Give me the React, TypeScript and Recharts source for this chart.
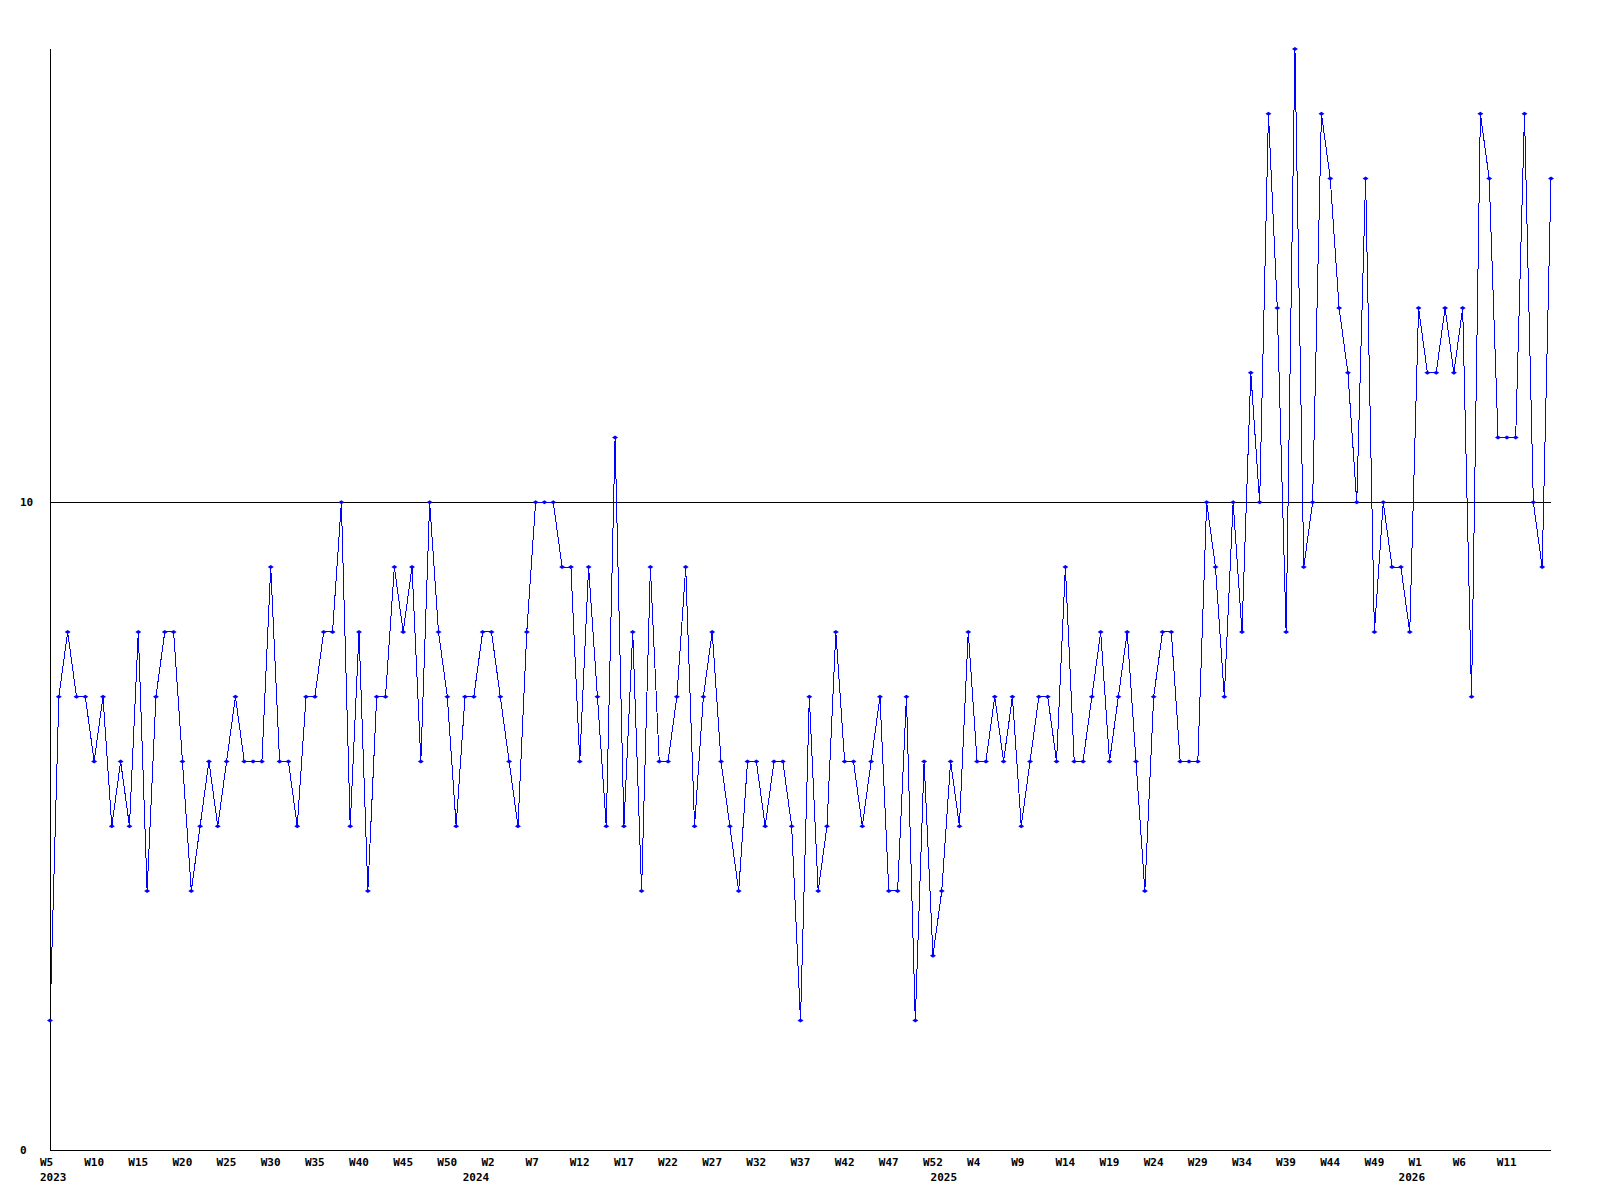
import { LineChart, Line, XAxis, YAxis, ReferenceLine } from 'recharts';

// week numbering as printed on the chart (years run W1..W53)
const years = [2023, 2024, 2025, 2026];
const firstWeeks = [5, 1, 1, 1];
const lastWeeks = [53, 53, 53, 16];

// weekly counts, W5 2023 -> W16 2026
const counts = [
  2, 7, 8, 7, 7, 6, 7, 5, 6, 5, 8, 4, 7, 8, 8, 6, 4, 5, 6, 5, 6, 7, 6, 6, 6, 9, 6, 6, 5,
  7, 7, 8, 8, 10, 5, 8, 4, 7, 7, 9, 8, 9, 6, 10, 8, 7, 5, 7, 7, 8, 8, 7, 6, 5, 8, 10, 10,
  10, 9, 9, 6, 9, 7, 5, 11, 5, 8, 4, 9, 6, 6, 7, 9, 5, 7, 8, 6, 5, 4, 6, 6, 5, 6, 6, 5, 2,
  7, 4, 5, 8, 6, 6, 5, 6, 7, 4, 4, 7, 2, 6, 3, 4, 6, 5, 8, 6, 6, 7, 6, 7, 5, 6, 7, 7,
  6, 9, 6, 6, 7, 8, 6, 7, 8, 6, 4, 7, 8, 8, 6, 6, 6, 10, 9, 7, 10, 8, 12, 10, 16, 13, 8, 17,
  9, 10, 16, 15, 13, 12, 10, 15, 8, 10, 9, 9, 8, 13, 12, 12, 13, 12, 13, 7, 16, 15, 11, 11, 11, 16, 10, 9,
  15,
];

const yTicks = [0, 10];
const labelEvery = 5;

type Row = { key: string; week: string; weekNo: number; year: number; value: number };

const data: Row[] = [];
years.forEach((year, i) => {
  for (let w = firstWeeks[i]; w <= lastWeeks[i]; w++) {
    data.push({ key: `${year}-W${w}`, week: `W${w}`, weekNo: w, year, value: counts[data.length] });
  }
});

const FONT = '"DejaVu Sans Mono", monospace';

function WeekTick(props: any) {
  const { x, y, payload } = props;
  const idx = data.findIndex((d) => d.key === payload.value);
  if (idx < 0) return null;
  const row = data[idx];
  const showWeek = idx % labelEvery === 0 && idx !== data.length - 1;
  const showYear = idx === 0 || row.weekNo === 1;
  return (
    <g>
      {showWeek && (
        <text x={x - 10} y={y + 16} textAnchor="start" fontFamily={FONT} fontWeight="bold" fontSize={11} fill="#000">
          {row.week}
        </text>
      )}
      {showYear && (
        <text x={x - (idx === 0 ? 10 : 20)} y={y + 31} textAnchor="start" fontFamily={FONT} fontWeight="bold" fontSize={11} fill="#000">
          {row.year}
        </text>
      )}
    </g>
  );
}

function ValueTick(props: any) {
  const { x, y, payload } = props;
  return (
    <text x={x - 30} y={y + 4} textAnchor="start" fontFamily={FONT} fontWeight="bold" fontSize={11} fill="#000">
      {payload.value}
    </text>
  );
}

function Marker(props: any) {
  const { cx, cy } = props;
  if (cx == null || cy == null) return null;
  return <path d={`M${cx - 3},${cy}L${cx},${cy - 2}L${cx + 3},${cy}L${cx},${cy + 2}Z`} fill="#0000ff" />;
}

export default function App() {
  return (
    <div style={{ position: 'absolute', left: 0, top: 0, width: 1600, height: 1200, background: '#fff' }}>
      <LineChart width={1600} height={1200} data={data} margin={{ top: 49, right: 49, bottom: 0, left: 0 }}>
        <XAxis
          dataKey="key"
          interval={0}
          height={50}
          tickLine={false}
          tickSize={0}
          tickMargin={0}
          axisLine={{ stroke: '#000', shapeRendering: 'crispEdges' }}
          tick={(p: any) => <WeekTick {...p} />}
        />
        <YAxis
          width={50}
          domain={[0, 17]}
          ticks={yTicks}
          interval={0}
          tickLine={false}
          tickSize={0}
          tickMargin={0}
          axisLine={{ stroke: '#000', shapeRendering: 'crispEdges' }}
          tick={(p: any) => <ValueTick {...p} />}
        />
        <ReferenceLine y={10} stroke="#000" strokeWidth={1} shapeRendering="crispEdges" />
        <Line
          type="linear"
          dataKey="value"
          stroke="#0000ff"
          strokeWidth={1}
          shapeRendering="crispEdges"
          dot={(p: any) => <Marker key={p.index} {...p} />}
          activeDot={false}
          isAnimationActive={false}
        />
      </LineChart>
    </div>
  );
}
